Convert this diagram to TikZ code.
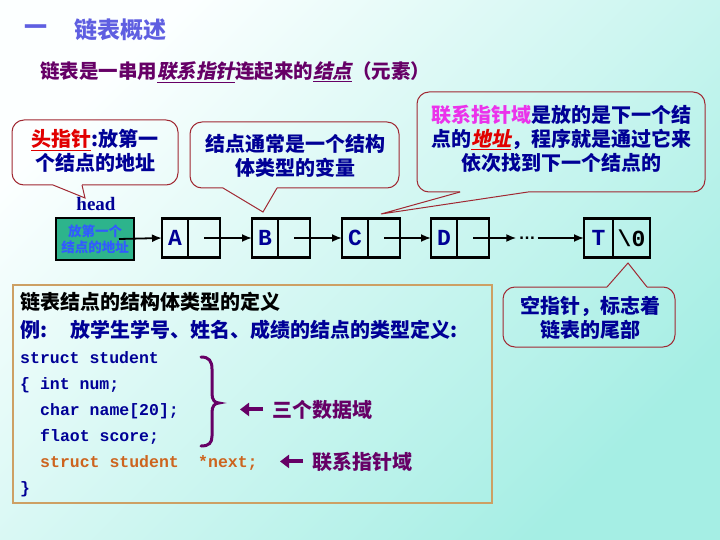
\documentclass[tikz,border=0pt]{standalone}
\usepackage{fontspec}
\usetikzlibrary{arrows.meta,positioning,calc}
\newfontfamily\cjk{Noto Sans CJK SC}
\newfontfamily\cjkit{Noto Sans CJK SC}[FakeSlant=0.2]
\newfontfamily\monof{Liberation Mono}
\newfontfamily\serf{Liberation Serif}
\newfontfamily\sansf{Liberation Sans}
\definecolor{bgA}{RGB}{252,255,255}
\definecolor{bgB}{RGB}{165,238,228}
\definecolor{cTitle}{RGB}{95,95,225}
\definecolor{cPurp}{RGB}{102,0,102}
\definecolor{cNavy}{RGB}{0,0,150}
\definecolor{cRed}{RGB}{225,0,0}
\definecolor{cMag}{RGB}{235,50,235}
\definecolor{cCall}{RGB}{160,40,50}
\definecolor{cTeal}{RGB}{45,180,140}
\definecolor{cHb}{RGB}{50,90,255}
\definecolor{cOrng}{RGB}{205,100,30}
\definecolor{cTan}{RGB}{205,160,100}
\begin{document}
\begin{tikzpicture}[x=1pt,y=-1pt,
  titlef/.style={font=\cjk\bfseries\fontsize{23}{26}\selectfont, text=cTitle, inner sep=0, anchor=west},
  calltext/.style={font=\cjk\bfseries\fontsize{20}{24}\selectfont, text=cNavy, align=center, inner sep=0},
  callout/.style={draw=cCall, line width=1pt, rounded corners=12pt},
  callptr/.style={draw=cCall, line width=1pt},
  cell/.style={draw, line width=2.5pt, minimum height=39pt, inner sep=0, outer sep=0,
    font=\monof\bfseries\fontsize{23}{24}\selectfont, text=cNavy},
  link/.style={line width=1.8pt, -{Latex[length=10pt,width=8pt]}},
  cjkline/.style={font=\cjk\bfseries\fontsize{20}{22}\selectfont, text=cNavy, anchor=base west, inner sep=0},
  code/.style={font=\monof\bfseries\fontsize{16.5}{20}\selectfont, text=cNavy, anchor=base west, inner sep=0},
  fat/.style={draw=cPurp, line width=4pt, -{Triangle[length=9pt,width=13pt]}}
]
\useasboundingbox (0,0) rectangle (720,540);
\shade[top color=bgA, bottom color=bgB, shading angle=45] (0,0) rectangle (720,540);

% title
\node[titlef] (t1) at (24,30) {一};
\node[titlef] (t2) at (74,30) {链表概述};
\node[font=\cjk\bfseries\fontsize{19.5}{22}\selectfont, text=cPurp, anchor=west, inner sep=0] (sub) at (40,72)
  {链表是一串用{\cjkit\bfseries\underline{联系指针}}连起来的{\cjkit\bfseries\underline{结点}}（元素）};

% callouts
\draw[callout] (53,185) -- (12,185) -- (12,120) -- (178,120) -- (178,185) -- (82,185);
\draw[callptr] (53,185) -- (85,198) -- (82,185);
\node[calltext] (k1) at (95,151) {{\color{cRed}\underline{头指针}}:放第一\\个结点的地址};

\draw[callout] (223,188) -- (190,188) -- (190,122) -- (399,122) -- (399,188) -- (277,188);
\draw[callptr] (223,188) -- (263,212) -- (277,188);
\node[calltext] (k2) at (295,156) {结点通常是一个结构\\体类型的变量};

\draw[callout] (460,192) -- (417,192) -- (417,92) -- (705,92) -- (705,192) -- (528,192);
\draw[callptr] (460,192) -- (381,214) -- (528,192);
\node[calltext] (k3) at (561,139) {{\color{cMag}联系指针域}是放的是下一个结\\点的{\color{cRed}\cjkit\bfseries\underline{地址}}，程序就是通过它来\\依次找到下一个结点的};

\draw[callout] (607,287) -- (503,287) -- (503,347) -- (675,347) -- (675,287) -- (647,287);
\draw[callptr] (607,287) -- (628,263) -- (647,287);
\node[calltext] (k4) at (590,318) {空指针，标志着\\链表的尾部};

% linked list
\node[font=\serf\bfseries\fontsize{19}{22}\selectfont, text=cNavy, inner sep=0] (headlbl) at (96,204) {head};
\node[draw, line width=2.5pt, fill=cTeal, minimum width=78pt, minimum height=42pt, inner sep=0, outer sep=0,
  align=center, font=\cjk\bfseries\fontsize{13.5}{16}\selectfont, text=cHb] (hb) at (95,239) {放第一个\\结点的地址};

\node[cell, minimum width=26pt] (A1) at (175,238) {A};
\node[cell, minimum width=32pt, anchor=west] (A2) at (A1.east) {};
\node[cell, minimum width=26pt] (B1) at (265,238) {B};
\node[cell, minimum width=32pt, anchor=west] (B2) at (B1.east) {};
\node[cell, minimum width=26pt] (C1) at (355,238) {C};
\node[cell, minimum width=32pt, anchor=west] (C2) at (C1.east) {};
\node[cell, minimum width=26pt] (D1) at (444,238) {D};
\node[cell, minimum width=32pt, anchor=west] (D2) at (D1.east) {};
\node[cell, minimum width=29pt] (T1) at (598.5,238) {T};
\node[cell, minimum width=37pt, anchor=west, text=black] (T2) at (T1.east) {\textbackslash 0};
\node[font=\sansf\bfseries\fontsize{17}{17}\selectfont, inner sep=0, anchor=base] (dots) at (527,240) {…};

\draw[link] ([xshift=-15pt]hb.east) -- (A1.west);
\draw[link] (A2.center) -- (B1.west);
\draw[link] (B2.center) -- (C1.west);
\draw[link] (C2.center) -- (D1.west);
\draw[link] (D2.center) -- ([xshift=-2pt]D2.center -| dots.west);
\draw[link] ([xshift=2pt]T1.west -| dots.east) -- (T1.west);

% code box
\node[draw=cTan, line width=1.2pt, minimum width=479pt, minimum height=218pt, inner sep=0] (codebox) at (252.5,394) {};
\node[cjkline, text=black] (c1) at (20,309) {链表结点的结构体类型的定义};
\node[cjkline] (c2a) at (20,337) {例:};
\node[cjkline] (c2b) at (70,337) {放学生学号、姓名、成绩的结点的类型定义:};
\node[code] (c3) at (20,363) {struct student};
\node[code] (c4) at (20,389) {\{ int num;};
\node[code] (c5) at (40,415) {char name[20];};
\node[code] (c6) at (40,441) {flaot score;};
\node[code, text=cOrng] (c7a) at (40,467) {struct student};
\node[code, text=cOrng] (c7b) at (198,467) {*next;};
\node[code] (c8) at (20,493) {\}};

\draw[cPurp, line width=3pt, line cap=round] (201,357) .. controls (209,357) and (212,361) .. (212,369)
  -- (212,394) .. controls (212,400) and (215,403) .. (219,403)
  .. controls (215,403) and (212,406) .. (212,412) -- (212,436)
  .. controls (212,443) and (209,446) .. (201,446);

\node[cjkline, text=cPurp] (d1) at (272,417) {三个数据域};
\draw[fat] ([xshift=-9pt]d1.west) -- ++(-23,0);
\node[cjkline, text=cPurp] (d2) at (312,469) {联系指针域};
\draw[fat] ([xshift=-9pt]d2.west) -- ++(-23,0);
\end{tikzpicture}
\end{document}
